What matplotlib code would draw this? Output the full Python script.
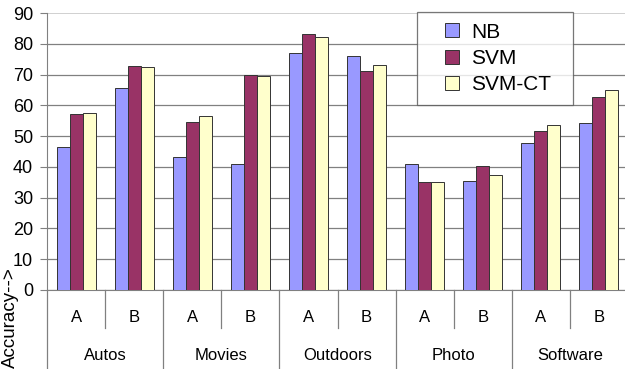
import numpy as np
import matplotlib
matplotlib.use("Agg")
import matplotlib.pyplot as plt
from matplotlib.lines import Line2D

plt.rcParams['font.family'] = ['Liberation Sans', 'DejaVu Sans']

categories = ['Autos', 'Movies', 'Outdoors', 'Photo', 'Software']
subsets = ['A', 'B']
nb     = [46.6, 65.5, 43.1, 40.8, 77.0, 75.9, 40.8, 35.4, 47.7, 54.3]
svm    = [57.1, 72.7, 54.6, 69.9, 83.3, 71.1, 35.0, 40.3, 51.7, 62.8]
svm_ct = [57.6, 72.3, 56.4, 69.5, 82.1, 73.1, 35.0, 37.3, 53.7, 65.0]

series = [('NB', nb, '#9999ff'), ('SVM', svm, '#993366'), ('SVM-CT', svm_ct, '#ffffcc')]

fig = plt.figure(figsize=(6.25, 3.69), dpi=100)
ax = fig.add_axes([47/625, 79/369, 581/625, 277/369])

x = np.arange(len(nb))
w = 0.224
for k, (name, vals, col) in enumerate(series):
    ax.bar(x + (k - 1)*w, vals, w, color=col, edgecolor='#333333', linewidth=0.7,
           label=name, zorder=3)

ax.set_xlim(-0.5, len(nb) - 0.5)
ax.set_ylim(0, 90)
ax.set_yticks(range(0, 91, 10))
ax.tick_params(axis='y', length=5, color='#808080', labelsize=13, pad=5)
ax.yaxis.grid(True, color='#808080', linewidth=0.9, zorder=0)
ax.yaxis.get_gridlines()[-1].set_color('#c8c8c8')
ax.yaxis.get_gridlines()[-1].set_linewidth(1.2)
ax.set_xticks([])
for s in ['top', 'right']:
    ax.spines[s].set_visible(False)
ax.spines['left'].set_color('#808080')
ax.spines['bottom'].set_color('#808080')

# two-level category axis below the bars
tr = ax.get_xaxis_transform()
for i in range(len(nb) + 1):
    bottom = -0.285 if i % 2 == 0 else -0.137
    ax.plot([i - 0.5, i - 0.5], [0, bottom], transform=tr, color='#808080',
            linewidth=0.9, clip_on=False)
for i in range(len(nb)):
    ax.text(i, -0.101, subsets[i % 2], transform=tr, ha='center', va='center',
            fontsize=12)
for j, cat in enumerate(categories):
    ax.text(2*j + 0.5, -0.235, cat, transform=tr, ha='center', va='center',
            fontsize=12)

fig.text(10/625, (369 - 318)/369, 'Accuracy-->', rotation=90, ha='center',
         va='center', fontsize=13.5)

handles = [Line2D([], [], linestyle='none', marker='s', markersize=10,
                  markerfacecolor=c, markeredgecolor='#333333', markeredgewidth=0.7)
           for _, _, c in series]
leg = ax.legend(handles, [n for n, _, _ in series], loc='upper left', mode='expand',
                bbox_to_anchor=((417 - 47)/581, (290 - 15)/277, 156/581, 0.01),
                fontsize=15, frameon=True, fancybox=False, borderpad=0.5,
                handlelength=2.35, handletextpad=-0.25,
                labelspacing=0.35, borderaxespad=0)
leg.get_frame().set_edgecolor('#555555')
leg.get_frame().set_linewidth(0.9)
leg.set_zorder(5)

fig.savefig('out.png', dpi=100)
